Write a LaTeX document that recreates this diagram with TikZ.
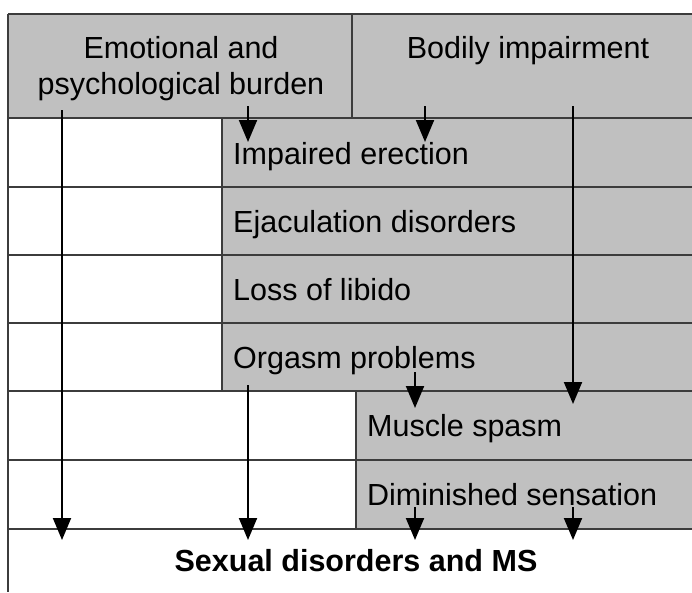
\documentclass[tikz,border=0pt]{standalone}
\usepackage{fontspec}
\setmainfont{Liberation Sans}
\usetikzlibrary{arrows.meta}
\definecolor{cellgray}{HTML}{C0C0C0}
\definecolor{gridline}{HTML}{3C3C3C}
\begin{document}
\begin{tikzpicture}[x=1pt,y=-1pt,
  gridln/.style={draw=gridline, line width=1.4pt},
  shade/.style={fill=cellgray},
  lbl/.style={font=\fontsize{30.5}{36}\selectfont, inner sep=0pt, text=black},
  rowlbl/.style={lbl, anchor=base west},
  headlbl/.style={lbl, anchor=base},
  arr/.style={line width=2pt, -{Triangle[width=18pt,length=22pt]}}]
\useasboundingbox (0,0) rectangle (692,592);
% shaded areas
\fill[shade] (8,14) rectangle (692,118);
\fill[shade] (222,118) rectangle (692,391);
\fill[shade] (356,391) rectangle (692,529);
% grid
\draw[gridln] (8,14) -- (692,14);
\foreach \yy in {118,187,255,323,391,460,529} {\draw[gridln] (8,\yy) -- (692,\yy);}
\draw[gridln] (8,14) -- (8,592);
\draw[gridln] (352,14) -- (352,118);
\draw[gridln] (222,118) -- (222,391);
\draw[gridln] (356,391) -- (356,529);
% labels
\node[headlbl] (emoA) at (181,58) {Emotional and};
\node[headlbl] (emoB) at (181,94) {psychological burden};
\node[headlbl] (bodily) at (528,58) {Bodily impairment};
\node[rowlbl] (erect) at (233,164) {Impaired erection};
\node[rowlbl] (ejac) at (233,232) {Ejaculation disorders};
\node[rowlbl] (libido) at (233,300) {Loss of libido};
\node[rowlbl] (orgasm) at (233,368) {Orgasm problems};
\node[rowlbl] (spasm) at (367,436) {Muscle spasm};
\node[rowlbl] (sens) at (367,505) {Diminished sensation};
\node[headlbl, font=\fontsize{30.5}{36}\selectfont\bfseries] (sexual) at (356,571) {Sexual disorders and MS};
% arrow endpoints
\coordinate (s1) at (62,110);  \coordinate (e1) at (62,540);
\coordinate (s2) at (248,106); \coordinate (e2) at (248,142);
\coordinate (s3) at (425,106); \coordinate (e3) at (425,142);
\coordinate (s4) at (573,106); \coordinate (e4) at (573,404);
\coordinate (s5) at (248,385); \coordinate (e5) at (248,540);
\coordinate (s6) at (415,372); \coordinate (e6) at (415,408);
\coordinate (s7) at (415,507); \coordinate (e7) at (415,540);
\coordinate (s8) at (573,507); \coordinate (e8) at (573,540);
\foreach \i in {1,...,8} {\draw[arr] (s\i) -- (e\i);}
\end{tikzpicture}
\end{document}
